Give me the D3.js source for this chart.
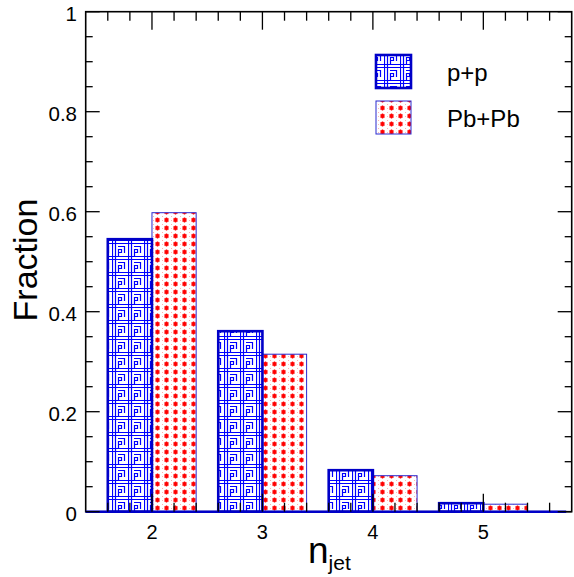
<!DOCTYPE html>
<html>
<head>
<meta charset="utf-8">
<script src="https://cdn.jsdelivr.net/npm/d3@7"></script>
<style>
  html, body { margin: 0; padding: 0; background: #fff; }
  svg { display: block; font-family: "Liberation Sans", Arial, Helvetica, sans-serif; }
</style>
</head>
<body>
<svg id="chart" width="574" height="577"></svg>
<script>
// ---- data ----
const nJet = [2, 3, 4, 5];
const ppFraction = [0.545, 0.361, 0.083, 0.017];
const pbpbFraction = [0.598, 0.315, 0.072, 0.015];
const xTickValues = [2, 3, 4, 5];
const yTickValues = [0, 0.2, 0.4, 0.6, 0.8, 1];
const yTickLabels = ["0", "0.2", "0.4", "0.6", "0.8", "1"];
const seriesNames = ["p+p", "Pb+Pb"];
const xDomain = [1.4, 5.8];
const yDomain = [0, 1];

// ---- layout ----
const svg = d3.select("#chart");
const L = 85.7, R = 571.7, T = 11.7, B = 511.7;
const x = d3.scaleLinear().domain(xDomain).range([L, R]);
const y = d3.scaleLinear().domain(yDomain).range([B, T]);
const halfW = 0.4;

// ---- patterns ----
const defs = svg.append("defs");
const pp = defs.append("pattern").attr("id", "ppPat")
  .attr("patternUnits", "userSpaceOnUse").attr("width", 16).attr("height", 16);
pp.append("rect").attr("width", 16).attr("height", 16).attr("fill", "#fff");
pp.append("path")
  .attr("d", "M0 0.5H16 M0.5 0V16 M0 3.5H16 M3.5 0V16 M6 6.5H13 M12.5 6V13 M6.5 9V16 M6 12.5H10 M9.5 9V13 M6 9.5H10")
  .attr("stroke", "#0000ff").attr("stroke-width", 1.2).attr("fill", "none");

const pb = defs.append("pattern").attr("id", "pbPat")
  .attr("patternUnits", "userSpaceOnUse").attr("width", 9).attr("height", 8);
pb.append("rect").attr("width", 9).attr("height", 8).attr("fill", "#fff");
pb.append("path")
  .attr("d", "M2 4H7 M4.5 1.5V6.5 M2.7 2.2L6.3 5.8 M6.3 2.2L2.7 5.8")
  .attr("stroke", "#ff0000").attr("stroke-width", 1.2).attr("fill", "none");
pb.append("circle").attr("cx", 0.5).attr("cy", 0.5).attr("r", 0.6).attr("fill", "#ffb0b0");
pb.append("circle").attr("cx", 0.5).attr("cy", 4.5).attr("r", 0.6).attr("fill", "#ffb0b0");

// ---- bars ----
const ppColor = "#0000c8";
const pbColor = "#2a2ad0";

svg.append("g").selectAll("rect").data(nJet).join("rect")
  .attr("x", d => x(d))
  .attr("width", d => x(d + halfW) - x(d))
  .attr("y", (d, i) => y(pbpbFraction[i]))
  .attr("height", (d, i) => y(0) - y(pbpbFraction[i]))
  .attr("fill", "url(#pbPat)")
  .attr("stroke", pbColor).attr("stroke-width", 1);

svg.append("g").selectAll("rect").data(nJet).join("rect")
  .attr("x", d => x(d - halfW))
  .attr("width", d => x(d) - x(d - halfW))
  .attr("y", (d, i) => y(ppFraction[i]))
  .attr("height", (d, i) => y(0) - y(ppFraction[i]))
  .attr("fill", "url(#ppPat)")
  .attr("stroke", ppColor).attr("stroke-width", 2.6);

// ---- frame ----
svg.append("rect").attr("x", L).attr("y", T).attr("width", R - L).attr("height", B - T)
  .attr("fill", "none").attr("stroke", "#000").attr("stroke-width", 1.6);

// baseline of histograms
svg.append("line").attr("x1", x(1.4)).attr("x2", x(5.75)).attr("y1", y(0)).attr("y2", y(0))
  .attr("stroke", ppColor).attr("stroke-width", 2.6);

// ---- ticks ----
const tk = svg.append("g").attr("stroke", "#000").attr("stroke-width", 1.3);
const xMinor = d3.range(16, 58, 2).map(v => v / 10).filter(v => v > 1.41 && v < 5.79);
xMinor.forEach(v => {
  const major = Math.abs(v - Math.round(v)) < 1e-6;
  const len = major ? 18 : 9;
  tk.append("line").attr("x1", x(v)).attr("x2", x(v)).attr("y1", B).attr("y2", B - len);
  tk.append("line").attr("x1", x(v)).attr("x2", x(v)).attr("y1", T).attr("y2", T + len);
});
const yMinor = d3.range(0, 21).map(v => v * 0.05);
yMinor.forEach(v => {
  const major = Math.abs(v * 5 - Math.round(v * 5)) < 1e-6;
  const len = major ? 14 : 7;
  tk.append("line").attr("x1", L).attr("x2", L + len).attr("y1", y(v)).attr("y2", y(v));
  tk.append("line").attr("x1", R).attr("x2", R - len).attr("y1", y(v)).attr("y2", y(v));
});

// ---- tick labels ----
svg.append("g").selectAll("text").data(xTickValues).join("text")
  .attr("x", d => x(d)).attr("y", 539)
  .attr("text-anchor", "middle").attr("font-size", 20).attr("fill", "#000")
  .text(d => d);
svg.append("g").selectAll("text").data(yTickValues).join("text")
  .attr("x", 77).attr("y", d => y(d) + 1.5)
  .attr("text-anchor", "end").attr("dominant-baseline", "central")
  .attr("font-size", 20.5).attr("fill", "#000")
  .text((d, i) => yTickLabels[i]);

// ---- axis titles ----
svg.append("text")
  .attr("transform", "translate(37,260) rotate(-90)")
  .attr("text-anchor", "middle").attr("font-size", 34).attr("fill", "#000")
  .text("Fraction");
const xt = svg.append("text").attr("x", 308).attr("y", 563).attr("fill", "#000");
xt.append("tspan").attr("font-size", 37).text("n");
xt.append("tspan").attr("font-size", 21).attr("dy", 7).text("jet");

// ---- legend ----
const legend = svg.append("g");
const legY = [55, 101];
const legFills = ["url(#ppPat)", "url(#pbPat)"];
const legStroke = [ppColor, pbColor];
const legSW = [2.6, 1];
seriesNames.forEach((name, i) => {
  legend.append("rect").attr("x", 376).attr("y", legY[i]).attr("width", 35).attr("height", 33)
    .attr("fill", legFills[i]).attr("stroke", legStroke[i]).attr("stroke-width", legSW[i]);
  legend.append("text").attr("x", 447).attr("y", legY[i] + 17)
    .attr("dominant-baseline", "central").attr("font-size", 24).attr("fill", "#000")
    .text(name);
});
</script>
</body>
</html>
